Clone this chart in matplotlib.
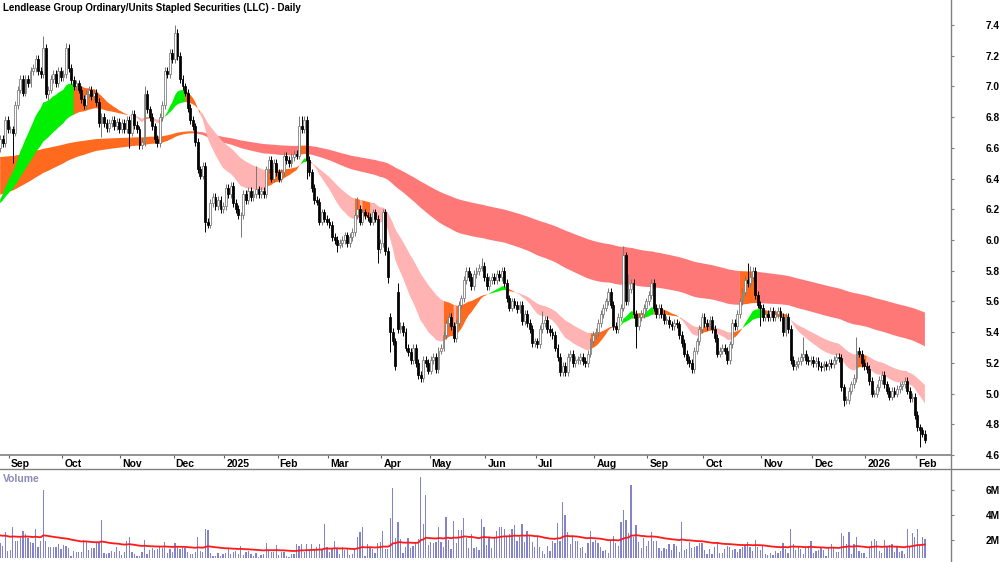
import numpy as np
import matplotlib
matplotlib.use("Agg")
import matplotlib.pyplot as plt
from matplotlib.lines import Line2D
from matplotlib.transforms import ScaledTranslation

plt.rcParams["font.family"] = ["Liberation Sans", "DejaVu Sans"]
plt.rcParams["font.weight"] = "bold"

# ── Daily closes ──
aug24 = [6.66, 6.63, 6.78, 6.72]
sep24 = [6.72, 6.70, 6.88, 6.98, 7.05, 6.96, 7.05, 7.02, 7.10, 7.12, 7.18, 7.10, 7.08, 7.25, 6.95,
         6.98, 7.05, 7.08, 7.02, 7.10, 7.06]
oct24 = [7.08, 7.25, 7.12, 7.04, 7.00, 7.02, 6.98, 6.92, 6.88, 6.95, 6.98, 6.94, 6.96, 6.90, 6.76,
         6.80, 6.76, 6.73, 6.76, 6.78, 6.74, 6.77, 6.72]
nov24 = [6.76, 6.72, 6.78, 6.70, 6.82, 6.75, 6.72, 6.62, 6.64, 6.95, 6.85, 6.80, 6.74, 6.66, 6.63,
         6.80, 6.88, 7.10, 7.08, 7.22, 7.18]
dec24 = [7.35, 7.20, 7.05, 7.00, 6.96, 6.86, 6.78, 6.74, 6.64, 6.46, 6.42, 6.48, 6.12, 6.10, 6.24,
         6.28, 6.22, 6.26, 6.20, 6.22]
jan25 = [6.34, 6.30, 6.35, 6.24, 6.20, 6.16, 6.16, 6.30, 6.26, 6.32, 6.28, 6.30, 6.33, 6.30, 6.32,
         6.30, 6.46, 6.52, 6.40, 6.50, 6.44]
feb25 = [6.40, 6.44, 6.55, 6.52, 6.50, 6.54, 6.56, 6.55, 6.74, 6.72, 6.78, 6.52, 6.44, 6.34, 6.26,
         6.25, 6.12, 6.18, 6.14, 6.12]
mar25 = [6.10, 6.02, 6.00, 5.97, 5.98, 6.00, 6.03, 5.98, 6.02, 6.05, 6.16, 6.20, 6.12, 6.18, 6.16,
         6.15, 6.12, 6.18, 6.14, 5.94, 5.98]
apr25 = [6.18, 5.93, 5.76, 5.40, 5.34, 5.18, 5.42, 5.44, 5.40, 5.30, 5.27, 5.22, 5.30, 5.20, 5.12,
         5.10, 5.22, 5.20, 5.15]
may25 = [5.22, 5.24, 5.16, 5.28, 5.30, 5.38, 5.46, 5.50, 5.44, 5.36, 5.46, 5.58, 5.62, 5.74, 5.80,
         5.76, 5.70, 5.78, 5.80, 5.82, 5.83, 5.76]
jun25 = [5.70, 5.74, 5.76, 5.74, 5.78, 5.76, 5.80, 5.72, 5.62, 5.56, 5.60, 5.58, 5.55, 5.58, 5.47,
         5.52, 5.46, 5.42, 5.33, 5.34]
jul25 = [5.32, 5.42, 5.46, 5.48, 5.42, 5.40, 5.38, 5.30, 5.24, 5.14, 5.18, 5.14, 5.24, 5.26, 5.20,
         5.22, 5.22, 5.24, 5.21, 5.20, 5.26, 5.34, 5.38]
aug25 = [5.40, 5.46, 5.52, 5.56, 5.60, 5.66, 5.58, 5.44, 5.42, 5.50, 5.56, 5.90, 5.60, 5.68, 5.72,
         5.52, 5.44, 5.50, 5.52, 5.56, 5.60]
sep25 = [5.64, 5.72, 5.56, 5.52, 5.56, 5.52, 5.48, 5.48, 5.45, 5.44, 5.46, 5.45, 5.38, 5.33, 5.26,
         5.22, 5.20, 5.16, 5.28, 5.34, 5.42, 5.50]
oct25 = [5.46, 5.44, 5.48, 5.42, 5.36, 5.26, 5.28, 5.30, 5.28, 5.22, 5.32, 5.46, 5.44, 5.52, 5.60,
         5.66, 5.74, 5.72, 5.76, 5.80, 5.64, 5.58, 5.56]
nov25 = [5.50, 5.52, 5.50, 5.54, 5.50, 5.52, 5.54, 5.50, 5.40, 5.50, 5.42, 5.22, 5.18, 5.19, 5.21,
         5.24, 5.26, 5.22, 5.21, 5.22]
dec25 = [5.20, 5.21, 5.18, 5.17, 5.19, 5.18, 5.20, 5.19, 5.22, 5.24, 5.23, 5.04, 4.96, 4.96, 5.02,
         5.06, 5.10, 5.28, 5.26, 5.20, 5.18]
jan26 = [5.16, 5.08, 5.00, 5.00, 5.04, 5.09, 5.12, 5.06, 5.02, 4.98, 5.02, 5.00, 5.03, 5.05, 5.06,
         5.08, 5.02, 4.97, 4.98, 4.86]
feb26 = [4.78, 4.76, 4.74, 4.70]

first_open = 6.60
# a few candles that gapped away from the previous close
gap_idx = [154, 157]
gap_open = [5.50, 5.66]

# notable wick extremes (bar index, price)
hi_idx = [17, 26, 57, 69, 101, 118, 119, 141, 157, 190, 214, 246, 248, 295, 296, 317, 338]
hi_val = [7.33, 7.28, 7.00, 7.40, 6.48, 6.81, 6.81, 6.28, 5.72, 5.88, 5.54, 5.96, 5.78, 5.85, 5.83, 5.37, 5.37]
lo_idx = [5, 19, 40, 51, 81, 95, 121, 133, 149, 153, 154, 251, 300, 333, 363]
lo_val = [6.50, 6.91, 6.67, 6.60, 6.05, 6.02, 6.40, 5.92, 5.85, 5.72, 5.27, 5.30, 5.44, 4.92, 4.65]

# ── Volume (millions) ──
vol_a = [1.69, 1.47, 2.63, 1.07, 1.15, 2.98, 1.88, 1.88, 2.09, 2.71,
         2.42, 2.15, 1.77, 1.69, 2.85, 1.42, 1.91, 6.00, 1.91, 1.42,
         1.42, 1.42, 1.42, 1.64, 1.21, 1.56, 1.47, 1.29, 0.67, 1.10,
         0.96, 0.96, 0.96, 1.96, 1.82, 1.15, 1.29, 1.34, 1.69, 1.69,
         3.58, 0.88, 0.80, 0.88, 1.10, 1.02, 1.37, 1.10, 0.75, 1.02,
         1.91, 2.20, 0.96, 0.83, 0.69, 0.67, 1.02, 1.93, 0.83, 1.15,
         1.29, 1.15, 1.23, 1.42, 1.29, 1.82, 0.94, 1.23, 1.02, 1.74,
         1.50, 1.23, 1.34, 1.34, 0.96, 0.83, 0.83, 1.02, 2.18, 1.07,
         0.96, 2.85, 2.79, 0.88, 0.69, 0.69, 0.94, 0.69, 0.80, 0.88,
         1.23, 0.80, 0.99]
vol_b = [1.07, 0.83, 1.47, 0.75, 0.96, 1.10, 0.83, 0.69, 0.94, 0.61,
         0.75, 0.83, 1.69, 1.15, 1.02, 1.02, 1.56, 0.75, 1.02, 1.02,
         0.69, 0.61, 0.83, 0.83, 1.64, 1.47, 1.64, 1.02, 1.64, 1.15,
         1.64, 1.15, 1.37, 1.64, 1.15, 3.23, 1.42, 1.02, 1.34, 1.88,
         1.29, 0.83, 1.42, 1.15, 1.21, 0.75, 0.83, 1.29, 2.23, 2.63,
         2.98, 0.67, 1.64, 1.37, 1.23, 0.94, 1.69, 1.82, 2.69, 1.23,
         1.23, 3.76, 6.13, 2.15, 3.44, 2.01, 0.94, 1.42, 2.15, 1.34,
         1.47, 1.69, 2.04, 7.08, 3.25, 5.60, 1.56, 1.82, 1.69, 1.82,
         3.04, 1.82, 1.42, 3.79, 1.96, 1.23, 3.49, 1.69, 2.77, 2.77,
         3.71, 2.09]
vol_c = [1.29, 2.42, 1.29, 1.42, 1.15, 3.66, 2.98, 1.56, 2.23, 1.29,
         2.09, 2.69, 3.04, 3.04, 2.85, 2.23, 2.42, 2.85, 3.17, 1.88,
         2.18, 3.23, 1.82, 2.69, 2.36, 1.77, 1.42, 2.28, 1.42, 1.07,
         0.83, 1.50, 1.07, 1.88, 1.69, 3.31, 1.88, 5.00, 3.98, 2.58,
         1.64, 2.36, 1.88, 1.88, 1.34, 1.42, 0.94, 1.69, 2.69, 1.77,
         1.96, 1.69, 1.42, 1.07, 1.15, 0.88, 1.88, 2.28, 1.69, 1.47,
         3.39, 4.39, 3.58, 2.50, 6.40, 2.23, 3.17, 1.82, 1.29, 2.15,
         1.47, 1.88, 2.58, 1.88, 1.88, 1.29, 1.07, 1.29, 1.23, 1.64,
         1.15, 1.61, 1.47, 1.02, 3.44, 1.12, 1.23, 1.82, 1.34, 1.37,
         1.47, 1.69]
vol_d = [1.69, 1.15, 0.83, 1.21, 0.83, 1.42, 1.82, 0.88, 0.88, 1.23,
         1.50, 1.37, 1.15, 1.23, 1.02, 1.23, 1.37, 1.56, 1.82, 1.37,
         1.07, 1.96, 1.37, 1.15, 1.56, 0.83, 0.75, 0.88, 0.75, 1.07,
         0.94, 1.10, 1.69, 1.23, 0.88, 2.85, 1.64, 1.15, 1.42, 1.23,
         0.83, 1.29, 1.47, 1.91, 0.88, 1.07, 1.15, 1.29, 1.15, 0.67,
         1.37, 1.64, 1.29, 0.96, 1.02, 2.50, 2.28, 1.64, 2.58, 0.83,
         1.64, 2.23, 1.10, 0.88, 0.88, 0.61, 1.29, 1.88, 2.04, 1.88,
         1.07, 0.88, 1.96, 1.50, 1.56, 1.64, 1.02, 1.42, 1.02, 1.07,
         0.83, 2.85, 1.37, 2.50, 2.23, 2.85, 1.50, 2.18, 2.04]

# ── Calendar: trading days per month (for the date axis) ──
lead_days = len(aug24)
month_labels = ["Sep", "Oct", "Nov", "Dec", "2025", "Feb", "Mar", "Apr", "May", "Jun",
                "Jul", "Aug", "Sep", "Oct", "Nov", "Dec", "2026", "Feb"]
month_days = [21, 23, 21, 20, 21, 20, 21, 19, 22, 20, 23, 21, 22, 23, 20, 21, 20, 4]

# ── Indicator settings: EMA spans and starting values read at the left edge ──
short_spans = (20, 45)
short_seed = (6.22, 6.22)
long_spans = (145, 255)
long_seed = (6.29, 6.54)
vol_ma_span = 50
vol_ma_seed = 2.36

# ── Build series ──
closes = np.array(aug24 + sep24 + oct24 + nov24 + dec24 + jan25 + feb25 + mar25 + apr25 + may25
                  + jun25 + jul25 + aug25 + sep25 + oct25 + nov25 + dec25 + jan26 + feb26)
volume = np.array(vol_a + vol_b + vol_c + vol_d)
n = len(closes)
x = np.arange(n)
opens = np.r_[first_open, closes[:-1]]
opens[gap_idx] = gap_open


def ema(values, span, seed):
    a = 2.0 / (span + 1)
    out = np.empty(len(values))
    prev = seed
    for i, v in enumerate(values):
        prev = prev + a * (v - prev)
        out[i] = prev
    return out


s_fast = ema(closes, short_spans[0], short_seed[0])
s_slow = ema(closes, short_spans[1], short_seed[1])
l_fast = ema(closes, long_spans[0], long_seed[0])
l_slow = ema(closes, long_spans[1], long_seed[1])
vol_ma = ema(volume, vol_ma_span, vol_ma_seed)

s_rise = np.diff(np.r_[short_seed[0], s_fast]) > 0
s_state = np.where((s_fast >= s_slow) & s_rise, "up",
                   np.where((s_fast < s_slow) & ~s_rise, "down", "mixed"))
l_rise = np.diff(np.r_[long_seed[0], l_fast]) > 0
l_state = np.where(l_rise, "up", "down")

GREEN = "#00f000"
ORANGE = "#ff6a1e"
PINK = "#ffb3b3"
RED = "#ff7878"


def fill_band(ax, a, b, states, palette, z):
    for key, col in palette.items():
        m = states == key
        m = m | np.r_[False, m[:-1]]
        ax.fill_between(x, a, b, where=m, color=col, lw=0, zorder=z, antialiased=True)


# ── Figure layout (pixel based, 1000 x 562) ──
W, H = 1000, 562
fig = plt.figure(figsize=(W / 100, H / 100), dpi=100)
right_px = 951
ax = fig.add_axes([0, 1 - 455 / H, right_px / W, 455 / H])
axv = fig.add_axes([0, 1 - 558 / H, right_px / W, (558 - 469) / H])

# ── Price panel ──
fill_band(ax, l_fast, l_slow, l_state, {"up": ORANGE, "down": RED}, 1)
fill_band(ax, s_fast, s_slow, s_state, {"up": GREEN, "mixed": ORANGE, "down": PINK}, 2)

up = closes >= opens
body_lo = np.minimum(opens, closes)
body_h = np.maximum(np.abs(closes - opens), 0.006)
wick_tail = 0.025
w_hi = np.maximum(opens, closes) + wick_tail
w_lo = np.minimum(opens, closes) - wick_tail
w_hi[hi_idx] = hi_val
w_lo[lo_idx] = lo_val

ax.vlines(x[up], w_lo[up], w_hi[up], color="#777777", lw=0.7, zorder=3)
ax.vlines(x[~up], w_lo[~up], w_hi[~up], color="black", lw=0.7, zorder=3)
ax.bar(x[up], body_h[up], bottom=body_lo[up], width=0.74, color="white",
       edgecolor="#777777", lw=0.55, zorder=4)
ax.bar(x[~up], body_h[~up], bottom=body_lo[~up], width=0.74, color="black",
       edgecolor="black", lw=0.55, zorder=4)

x_lo, x_hi = -0.05, 375.3
ax.set_xlim(x_lo, x_hi)
ax.set_ylim(4.6, 7.563)

ax.yaxis.tick_right()
ax.set_yticks(np.round(np.arange(4.6, 7.41, 0.2), 1))
ax.set_yticklabels([f"{v:.1f}" for v in np.arange(4.6, 7.41, 0.2)])
ax.tick_params(axis="y", direction="out", length=2.5, width=0.8, color="#808080",
               pad=22.7, labelsize=7.3)

starts = lead_days + np.cumsum([0] + month_days[:-1])
ax.set_xticks(starts - 0.5)
ax.set_xticklabels(month_labels, ha="left")
ax.tick_params(axis="x", direction="out", length=2, width=0.8, color="#606060",
               pad=1.2, labelsize=7.5)
for lbl in ax.get_xticklabels():
    lbl.set_transform(lbl.get_transform() + ScaledTranslation(2 / 100, 0, fig.dpi_scale_trans))

for side in ["left", "top", "right"]:
    ax.spines[side].set_visible(False)
ax.spines["bottom"].set_color("#808080")
ax.spines["bottom"].set_linewidth(1.2)

# ── Volume panel ──
axv.bar(x, volume, width=0.5, color="#8383cc", lw=0, zorder=2)
axv.plot(x, vol_ma, color="#ff1a1a", lw=1.3, zorder=3)
axv.set_xlim(x_lo, x_hi)
axv.set_ylim(0.505, 7.70)
axv.yaxis.tick_right()
axv.set_yticks([2, 4, 6])
axv.set_yticklabels(["2M", "4M", "6M"])
axv.tick_params(axis="y", direction="out", length=2.5, width=0.8, color="#808080",
                pad=22.7, labelsize=7.3)
axv.set_xticks([])
for side in axv.spines:
    axv.spines[side].set_visible(False)

# ── Frame lines and texts ──
fig.add_artist(Line2D([right_px / W] * 2, [0, 1], transform=fig.transFigure,
                      color="#808080", lw=1))
fig.add_artist(Line2D([0, 1], [1 - 469 / H] * 2, transform=fig.transFigure,
                      color="#808080", lw=1))

fig.text(3 / W, 1 - 8 / H, "Lendlease Group Ordinary/Units Stapled Securities (LLC) - Daily",
         fontsize=7, weight="bold", va="center", ha="left")
fig.text(3 / W, 1 - 479 / H, "Volume", fontsize=7.5, weight="bold", color="#8a8ab8",
         va="center", ha="left")

fig.savefig("out.png", dpi=100)
